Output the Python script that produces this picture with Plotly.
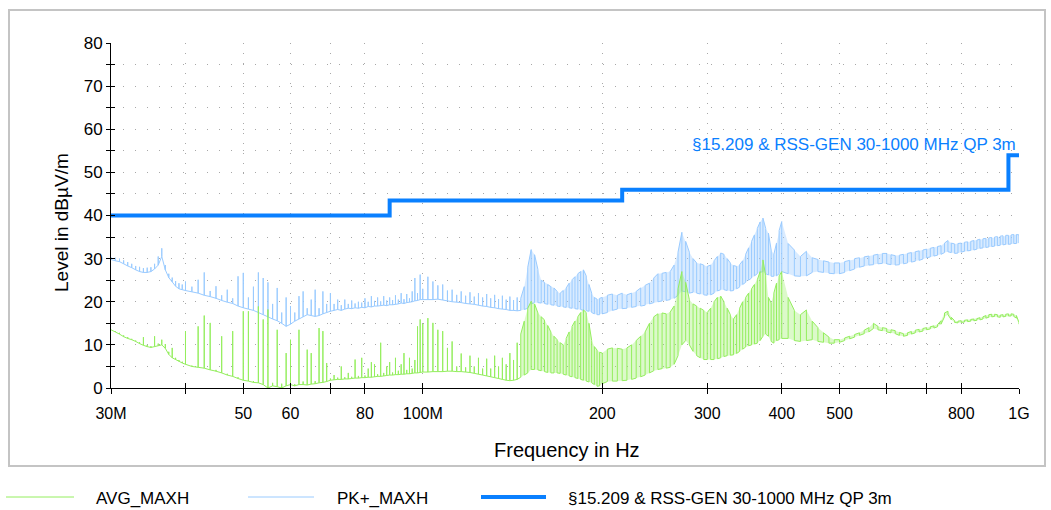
import math
import plotly.graph_objects as go

# ---------------- data ----------------
freq_mhz = [
    30.0, 30.5, 31.0, 31.5, 32.0, 32.5, 33.0, 33.5, 34.0, 34.5, 35.0, 35.5, 36.0, 36.5, 37.0, 37.5, 38.0, 38.5, 39.0, 39.5, 40.0,
    41, 42, 43, 44, 45, 46, 47, 48, 49, 50, 51, 52, 53, 54, 55, 56, 57, 58, 59, 60,
    61, 62, 63, 64, 65, 66, 67, 68, 69, 70, 71, 72, 73, 74, 75, 76, 77, 78, 79, 80,
    81, 82, 83, 84, 85, 86, 87, 88, 89, 90, 91, 92, 93, 94, 95, 96, 97, 98, 99, 100,
    102, 104, 106, 108, 110, 112, 114, 116, 118, 120, 122, 124, 126, 128, 130, 132, 134, 136, 138, 140,
    142, 144, 146, 148, 150, 152, 154, 156, 158, 160, 162, 164, 166, 168, 170, 172, 174, 176, 178, 180,
    182, 184, 186, 188, 190, 192, 194, 196, 198, 200,
    204, 208, 212, 216, 220, 224, 228, 232, 236, 240, 244, 248, 252, 256, 260, 264, 268, 272, 276, 280,
    284, 288, 292, 296, 300, 304, 308, 312, 316, 320, 324, 328, 332, 336, 340, 344, 348, 352, 356, 360,
    364, 368, 372, 376, 380, 384, 388, 392, 396, 400,
    410, 420, 430, 440, 450, 460, 470, 480, 490, 500, 510, 520, 530, 540, 550, 560, 570, 580, 590, 600,
    610, 620, 630, 640, 650, 660, 670, 680, 690, 700, 710, 720, 730, 740, 750, 760, 770, 780, 790, 800,
    810, 820, 830, 840, 850, 860, 870, 880, 890, 900, 910, 920, 930, 940, 950, 960, 970, 980, 990, 1000,
]

pk_lo = [
    29.8, 29.5, 29.3, 28.8, 28.3, 27.9, 27.4, 27.0, 26.8, 26.8, 27.0, 27.6, 28.5, 30.5, 27.4, 25.6, 24.6, 23.6, 23.0, 22.8, 22.6,
    22.3, 22.0, 21.5, 21.2, 20.8, 20.3, 19.9, 19.6, 19.0, 18.6, 18.3, 18.0, 17.5, 17.0, 16.5, 16.0, 15.6, 15.0, 14.3, 14.8,
    15.5, 16.0, 16.5, 17.0, 16.8, 16.6, 16.8, 17.2, 17.5, 17.8, 18.0, 18.2, 18.0, 18.3, 18.5, 18.4, 18.6, 18.5, 18.7, 18.6,
    18.9, 18.8, 19.0, 19.0, 19.1, 19.2, 19.1, 19.3, 19.3, 19.4, 19.5, 19.7, 19.6, 19.8, 19.9, 20.0, 20.2, 20.3, 20.5, 20.5,
    20.5, 20.5, 20.6, 20.4, 20.2, 20.0, 19.9, 19.8, 19.6, 19.5, 19.4, 19.2, 19.0, 18.9, 18.7, 18.6, 18.4, 18.3, 18.2, 18.0,
    18.0, 17.9, 18.0, 18.2, 18.5, 19.5, 19.8, 19.8, 19.7, 19.6, 19.4, 19.3, 19.2, 19.0, 18.9, 18.8, 18.7, 18.6, 18.5, 18.4,
    18.3, 18.2, 18.0, 17.9, 17.8, 17.5, 17.2, 17.0, 17.0, 17.2,
    17.5, 18.0, 18.3, 18.4, 18.5, 18.7, 18.9, 19.0, 19.2, 19.5, 19.8, 20.0, 20.2, 20.3, 20.5, 20.8, 21.5, 22.5, 22.3, 22.0,
    22.2, 22.0, 21.8, 21.6, 21.5, 21.6, 22.0, 22.5, 22.8, 22.8, 22.6, 22.5, 22.6, 23.0, 23.4, 24.0, 24.5, 25.0, 25.5, 26.0,
    26.5, 26.8, 27.0, 26.5, 26.2, 25.9, 25.9, 26.0, 26.5, 27.0,
    26.5, 26.0, 25.9, 26.0, 26.8, 27.0, 26.8, 26.6, 26.5, 26.5, 26.8, 27.2, 27.6, 28.0, 28.3, 28.5, 28.6, 28.8, 28.9, 28.8,
    28.6, 28.5, 28.6, 28.8, 29.0, 29.2, 29.4, 29.6, 29.9, 30.2, 30.4, 30.6, 30.8, 31.0, 31.4, 31.6, 31.4, 31.2, 31.3, 31.5,
    31.7, 31.8, 31.9, 32.0, 32.2, 32.4, 32.5, 32.6, 32.7, 32.8, 32.9, 33.0, 33.1, 33.2, 33.3, 33.3, 33.4, 33.5, 33.5, 33.6,
]

pk_hi = [
    30.3, 30.2, 30.0, 29.6, 29.2, 28.8, 28.3, 28.1, 27.8, 27.9, 28.0, 28.8, 30.5, 32.4, 28.5, 26.5, 25.6, 24.8, 24.3, 24.0, 24.7,
    23.5, 25.1, 26.8, 22.5, 23.6, 21.5, 22.8, 20.8, 25.9, 26.7, 21.0, 23.5, 26.8, 25.5, 24.5, 19.5, 23.2, 17.5, 21.0, 19.0,
    17.5, 21.3, 22.4, 18.5, 20.5, 22.8, 18.5, 22.4, 19.5, 22.0, 19.5, 20.5, 19.2, 20.5, 19.5, 20.3, 19.6, 20.0, 19.8, 20.8,
    20.0, 21.3, 20.2, 21.0, 20.1, 21.3, 20.3, 21.0, 20.4, 21.5, 20.5, 22.0, 20.6, 21.8, 20.8, 22.4, 25.5, 22.0, 26.3, 23.0,
    25.8, 24.7, 23.8, 24.0, 22.6, 22.8, 21.6, 22.4, 21.4, 22.2, 21.2, 22.0, 21.0, 21.8, 20.8, 21.6, 20.6, 21.4, 20.5, 21.2,
    20.4, 21.0, 20.8, 23.5, 28.0, 32.1, 30.9, 27.5, 25.0, 24.5, 24.0, 23.5, 23.2, 22.4, 22.0, 22.6, 23.2, 24.3, 25.1, 25.8,
    26.5, 27.0, 27.4, 26.0, 24.0, 22.0, 21.0, 20.6, 20.8, 21.0,
    21.5, 21.8, 21.5, 22.0, 21.6, 22.0, 22.4, 23.2, 23.8, 24.3, 25.5, 26.5, 26.6, 26.8, 27.0, 28.5, 31.5, 36.1, 34.0, 31.5,
    30.0, 29.0, 28.8, 28.5, 28.2, 28.5, 29.5, 30.5, 31.3, 31.0, 30.0, 29.0, 28.4, 28.2, 28.6, 29.5, 31.0, 32.5, 34.0, 35.5,
    37.0, 38.5, 39.4, 37.0, 35.9, 32.0, 31.0, 33.6, 36.5, 38.6,
    33.5, 32.0, 30.5, 31.7, 30.2, 29.8, 29.5, 29.2, 29.0, 29.0, 29.3, 29.6, 30.0, 30.2, 30.4, 30.6, 30.8, 31.0, 31.2, 31.2,
    30.9, 30.7, 30.8, 31.0, 31.2, 31.4, 31.6, 31.8, 32.0, 32.2, 32.4, 32.6, 32.8, 33.0, 33.6, 34.2, 33.6, 33.4, 33.5, 33.6,
    33.8, 33.9, 34.0, 34.2, 34.3, 34.5, 34.6, 34.7, 34.8, 34.9, 35.0, 35.1, 35.2, 35.3, 35.4, 35.4, 35.5, 35.6, 35.6, 35.5,
]

avg_lo = [
    13.5, 13.0, 12.5, 11.9, 11.5, 11.2, 10.8, 10.3, 9.9, 9.6, 9.4, 9.6, 9.8, 10.0, 9.2, 7.8, 7.0, 6.6, 6.2, 5.8, 5.5,
    5.0, 4.8, 4.6, 4.2, 3.9, 3.5, 3.0, 2.7, 2.2, 1.8, 1.6, 1.3, 1.2, 0.8, 0.0, 0.5, 0.3, 0.0, 0.5, 0.8,
    0.5, 0.8, 0.8, 0.7, 0.9, 1.0, 1.2, 1.3, 1.5, 1.8, 1.9, 2.0, 2.0, 2.1, 2.1, 2.2, 2.3, 2.3, 2.4, 2.4,
    2.5, 2.5, 2.6, 2.7, 2.7, 2.8, 2.9, 3.0, 3.0, 3.1, 3.1, 3.2, 3.2, 3.3, 3.3, 3.4, 3.5, 3.5, 3.6, 3.7,
    3.7, 3.8, 3.8, 3.8, 3.9, 3.9, 3.8, 3.8, 3.7, 3.6, 3.4, 3.2, 3.0, 2.8, 2.6, 2.4, 2.2, 2.0, 1.8, 1.7,
    1.8, 2.0, 2.5, 3.0, 3.5, 4.3, 4.3, 4.2, 4.0, 3.8, 3.6, 3.5, 3.5, 3.5, 3.4, 3.2, 3.0, 2.8, 2.6, 2.4,
    2.2, 2.0, 1.8, 1.6, 1.4, 1.2, 0.8, 0.4, 0.5, 1.0,
    1.5, 1.6, 1.6, 1.7, 1.8, 2.0, 2.3, 2.6, 3.0, 3.5, 4.0, 4.3, 4.5, 4.6, 4.8, 5.5, 7.5, 10.0, 11.0, 10.0,
    8.5, 7.5, 7.0, 6.6, 6.6, 6.6, 6.6, 6.8, 7.0, 7.3, 7.5, 7.6, 7.7, 8.0, 8.5, 9.0, 9.5, 9.8, 10.0, 10.2,
    10.4, 11.0, 12.0, 12.5, 12.0, 10.8, 10.4, 11.0, 11.2, 11.5,
    11.5, 11.0, 10.8, 11.0, 11.2, 10.8, 10.6, 10.4, 10.4, 10.6, 11.0, 11.4, 11.8, 12.2, 12.6, 13.0, 13.8, 13.5, 13.3, 13.0,
    12.8, 12.6, 12.2, 12.0, 12.2, 12.5, 12.8, 13.0, 13.2, 13.5, 13.7, 13.9, 14.2, 14.8, 16.5, 17.0, 15.8, 15.2, 15.1, 15.2,
    15.3, 15.4, 15.5, 15.6, 15.7, 15.8, 16.0, 16.2, 16.4, 16.5, 16.6, 16.5, 16.4, 16.5, 16.6, 16.7, 16.7, 16.6, 16.2, 14.8,
]

avg_hi = [
    13.5, 13.2, 12.8, 12.2, 11.8, 11.4, 11.0, 10.6, 11.8, 10.0, 9.7, 12.0, 10.3, 11.2, 10.2, 8.4, 9.3, 7.0, 6.5, 6.1, 13.2,
    5.2, 14.3, 16.8, 15.1, 4.2, 12.0, 3.3, 13.2, 2.5, 17.8, 17.8, 1.6, 18.9, 15.9, 18.2, 1.2, 13.5, 1.0, 8.1, 11.2,
    0.9, 13.5, 1.5, 8.9, 8.1, 1.6, 13.9, 13.2, 5.8, 2.2, 3.0, 2.4, 5.0, 2.5, 3.5, 2.6, 6.6, 2.8, 7.0, 2.9,
    4.5, 6.0, 5.5, 3.2, 10.5, 3.5, 5.0, 6.0, 3.6, 7.0, 4.0, 5.5, 8.1, 4.2, 7.0, 4.5, 6.5, 14.3, 15.9, 14.9,
    16.2, 15.1, 13.5, 13.2, 9.3, 10.8, 5.0, 8.0, 4.8, 7.5, 5.0, 7.0, 4.5, 6.8, 4.5, 7.5, 5.0, 7.0, 5.5, 8.1,
    6.5, 10.5, 12.5, 15.5, 18.5, 20.1, 19.5, 17.4, 16.5, 15.8, 14.5, 13.0, 12.0, 11.2, 10.5, 10.0, 11.5, 13.0, 14.3, 15.5,
    16.5, 17.5, 18.1, 17.5, 15.0, 11.0, 9.6, 8.8, 8.3, 8.1,
    9.0, 9.3, 9.2, 9.0, 9.3, 10.0, 11.0, 12.0, 13.0, 15.0, 16.5, 17.2, 17.4, 17.2, 17.6, 19.0, 23.0, 27.0, 24.5, 20.5,
    19.5, 19.0, 18.5, 18.0, 17.5, 18.5, 20.0, 21.0, 21.3, 20.0, 18.5, 17.0, 16.0, 17.0, 18.5, 20.0, 21.0, 22.0, 23.0, 24.0,
    25.1, 27.0, 29.7, 26.0, 21.0, 19.7, 22.0, 24.3, 26.0, 27.0,
    21.0, 18.0, 17.0, 18.1, 15.5, 14.0, 12.8, 11.8, 11.2, 11.2, 11.6, 12.0, 12.4, 12.8, 13.4, 14.0, 15.0, 14.3, 14.0, 13.8,
    13.5, 13.3, 12.9, 12.6, 12.8, 13.1, 13.4, 13.6, 13.8, 14.0, 14.2, 14.4, 14.7, 15.6, 17.4, 17.8, 16.4, 15.6, 15.5, 15.6,
    15.7, 15.8, 15.9, 16.0, 16.1, 16.3, 16.5, 16.8, 17.0, 17.1, 17.1, 17.0, 16.9, 17.0, 17.1, 17.2, 17.2, 17.1, 16.8, 15.2,
]

limit_freq_mhz = [30, 88, 88, 216, 216, 960, 960, 1000]
limit_level = [40, 40, 43.5, 43.5, 46, 46, 54, 54]
limit_name = "§15.209 & RSS-GEN 30-1000 MHz QP 3m"

x_tick_mhz = [30, 40, 50, 60, 70, 80, 100, 200, 300, 400, 500, 600, 700, 800, 1000]
x_tick_text = ["30M", "", "50", "60", "", "80", "100M", "200", "300", "400", "500", "", "", "800", "1G"]
y_tick_vals = [0, 5, 10, 15, 20, 25, 30, 35, 40, 45, 50, 55, 60, 65, 70, 75, 80]
y_tick_text = ["0", "", "10", "", "20", "", "30", "", "40", "", "50", "", "60", "", "70", "", "80"]

# above this frequency the sweep is a dense band (drawn as a square-wave zigzag)
band_start_mhz = 146

for name, arr in [("pk_lo", pk_lo), ("pk_hi", pk_hi), ("avg_lo", avg_lo), ("avg_hi", avg_hi)]:
    if len(arr) != len(freq_mhz):
        raise ValueError(f"{name}: {len(arr)} != {len(freq_mhz)}")

# ---------------- styles ----------------
C_AVG = "#94EE5E"
C_PK = "#9ACBFF"
C_AVG_FILL = "rgba(148,238,94,0.33)"
C_PK_FILL = "rgba(154,203,255,0.38)"
C_LIM = "#0A80FF"
FONT = "Arial, Liberation Sans, sans-serif"

W, H = 1051, 510
ML, MR, MT, MB = 111, 32, 43, 122
PW, PH = W - ML - MR, H - MT - MB


def px(xp):
    return (xp - ML) / PW


def py(yp):
    return (H - MB - yp) / PH


def sweep(freqs, lo, hi):
    xs, ys = [], []
    up = True
    for f, a, b in zip(freqs, lo, hi):
        x = f * 1e6
        if f < band_start_mhz:
            xs += [x, x, x]
            ys += [a, b, a]
            up = True
        else:
            xs += [x, x]
            ys += [a, b] if up else [b, a]
            up = not up
    return xs, ys


def band_polygon(freqs, lo, hi):
    sel = [i for i, f in enumerate(freqs) if f >= band_start_mhz]
    xs = [freqs[i] * 1e6 for i in sel] + [freqs[i] * 1e6 for i in reversed(sel)]
    ys = [hi[i] for i in sel] + [lo[i] for i in reversed(sel)]
    return xs, ys


fig = go.Figure()

pk_x, pk_y = sweep(freq_mhz, pk_lo, pk_hi)
avg_x, avg_y = sweep(freq_mhz, avg_lo, avg_hi)
pkb_x, pkb_y = band_polygon(freq_mhz, pk_lo, pk_hi)
avgb_x, avgb_y = band_polygon(freq_mhz, avg_lo, avg_hi)

fig.add_trace(go.Scatter(x=pkb_x, y=pkb_y, mode="lines", fill="toself", fillcolor=C_PK_FILL,
                         line=dict(width=0, color=C_PK), hoverinfo="skip", showlegend=False))
fig.add_trace(go.Scatter(x=pk_x, y=pk_y, mode="lines", name="PK+_MAXH",
                         line=dict(color=C_PK, width=1), hoverinfo="skip"))
fig.add_trace(go.Scatter(x=avgb_x, y=avgb_y, mode="lines", fill="toself", fillcolor=C_AVG_FILL,
                         line=dict(width=0, color=C_AVG), hoverinfo="skip", showlegend=False))
fig.add_trace(go.Scatter(x=avg_x, y=avg_y, mode="lines", name="AVG_MAXH",
                         line=dict(color=C_AVG, width=1), hoverinfo="skip"))
fig.add_trace(go.Scatter(x=[f * 1e6 for f in limit_freq_mhz], y=limit_level, mode="lines",
                         name=limit_name, line=dict(color=C_LIM, width=4), hoverinfo="skip"))
# helper trace so the overlay axes (inner tick halves) get drawn
fig.add_trace(go.Scatter(x=[30e6], y=[0], xaxis="x2", yaxis="y2", mode="markers",
                         marker=dict(opacity=0), hoverinfo="skip", showlegend=False))

xr = [math.log10(30e6), math.log10(1e9)]
tickvals_hz = [v * 1e6 for v in x_tick_mhz]

fig.update_layout(
    width=W, height=H,
    margin=dict(l=ML, r=MR, t=MT, b=MB),
    paper_bgcolor="white", plot_bgcolor="white",
    showlegend=False,
    font=dict(family=FONT, color="#000000", size=16),
    xaxis=dict(type="log", range=xr, tickvals=tickvals_hz, ticktext=x_tick_text,
               ticks="outside", ticklen=5, tickcolor="#000", tickwidth=1,
               showline=True, linecolor="#000", linewidth=1,
               showgrid=True, gridcolor="#A8A8A8", gridwidth=1, griddash="1px,9px",
               zeroline=False, tickfont=dict(size=16), ticklabelstandoff=6),
    yaxis=dict(range=[0, 80], tickvals=y_tick_vals, ticktext=y_tick_text,
               ticks="outside", ticklen=4, tickcolor="#000", tickwidth=1,
               showline=True, linecolor="#000", linewidth=1,
               showgrid=True, gridcolor="#A8A8A8", gridwidth=1, griddash="1px,11px",
               zeroline=False, tickfont=dict(size=17)),
    xaxis2=dict(type="log", range=xr, overlaying="x", anchor="y2", tickvals=tickvals_hz,
                ticks="inside", ticklen=5, tickcolor="#000", showticklabels=False,
                showgrid=False, zeroline=False, showline=False),
    yaxis2=dict(range=[0, 80], overlaying="y", anchor="x2", tickvals=y_tick_vals,
                ticks="inside", ticklen=4, tickcolor="#000", showticklabels=False,
                showgrid=False, zeroline=False, showline=False),
)

annotations = [
    dict(text=limit_name, xref="x", yref="y", x=math.log10(1e9) - 0.002, y=56.4,
         xanchor="right", yanchor="middle", showarrow=False,
         font=dict(size=17, color=C_LIM, family=FONT)),
    dict(text="Level in dBµV/m", xref="paper", yref="paper", x=px(61), y=py(223),
         textangle=-90, xanchor="center", yanchor="middle", showarrow=False,
         font=dict(size=19, family=FONT)),
    dict(text="Frequency in Hz", xref="paper", yref="paper", x=px(567), y=py(450),
         xanchor="center", yanchor="middle", showarrow=False, font=dict(size=20, family=FONT)),
    dict(text="AVG_MAXH", xref="paper", yref="paper", x=px(94), y=py(498),
         xanchor="left", yanchor="middle", showarrow=False, font=dict(size=17, family=FONT)),
    dict(text="PK+_MAXH", xref="paper", yref="paper", x=px(335), y=py(498),
         xanchor="left", yanchor="middle", showarrow=False, font=dict(size=17, family=FONT)),
    dict(text=limit_name, xref="paper", yref="paper", x=px(566), y=py(498),
         xanchor="left", yanchor="middle", showarrow=False, font=dict(size=17, family=FONT)),
]

shapes = [
    dict(type="rect", xref="paper", yref="paper", x0=px(9), x1=px(1045), y0=py(466), y1=py(10),
         line=dict(color="#C4C4C4", width=2), layer="below"),
    dict(type="line", xref="paper", yref="paper", x0=px(6), x1=px(74), y0=py(497), y1=py(497),
         line=dict(color=C_AVG, width=1)),
    dict(type="line", xref="paper", yref="paper", x0=px(248), x1=px(314), y0=py(497), y1=py(497),
         line=dict(color=C_PK, width=1)),
    dict(type="line", xref="paper", yref="paper", x0=px(481), x1=px(546), y0=py(497), y1=py(497),
         line=dict(color=C_LIM, width=4)),
]

fig.update_layout(annotations=annotations, shapes=shapes)
fig.write_html("out.html")
